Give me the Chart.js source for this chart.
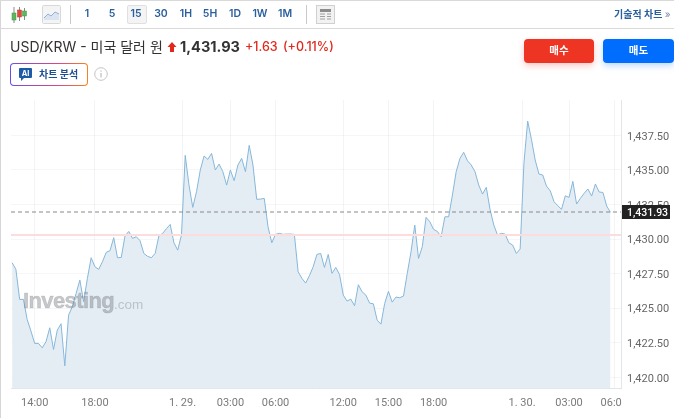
<!DOCTYPE html>
<html lang="ko">
<head>
<meta charset="utf-8">
<title>USD/KRW</title>
<script src="https://cdn.jsdelivr.net/npm/chart.js@4"></script>
<style>
  html, body { margin: 0; padding: 0; background: #fff; }
  body { width: 674px; height: 418px; position: relative; overflow: hidden; font-family: Inter, "Noto Sans CJK KR", sans-serif; }
  #chart { position: absolute; left: 0; top: 0; }
  .abs { position: absolute; white-space: nowrap; }
  #topbar { position: absolute; left: 0; top: 0; width: 674px; height: 27px; border-top: 1px solid #d9d9d9; border-bottom: 1px solid #d9d9d9; }
  #leftedge { position: absolute; left: 0; top: 0; width: 1px; height: 418px; background: #d6d6d6; }
  .iv { top: 7px; width: 30px; margin-left: -15px; text-align: center; font-size: 10.5px; line-height: 14px; font-weight: 600; color: #2a5f9e; }
  .sep { top: 5px; width: 1px; height: 19px; background: #c9c9c9; }
  .btn { top: 39px; height: 24px; border-radius: 4px; color: #fff; font-size: 10.5px; font-weight: 700; line-height: 24px; text-align: center; }
</style>
</head>
<body>
<canvas id="chart" width="674" height="418"></canvas>
<div id="leftedge"></div>
<div id="topbar"></div>

<svg class="abs" style="left:10px;top:6px" width="18" height="18">
  <path d="M4 1v16M9.500 1v14M14.500 2v12" stroke="#8a8a8a" stroke-width="1"/>
  <rect x="2" y="7" width="4" height="7" fill="#5cb85c" stroke="#4a8f4a" stroke-width=".5"/>
  <rect x="7.500" y="4" width="4" height="7" fill="#e04a3a" stroke="#b83a2c" stroke-width=".5"/>
  <rect x="12.500" y="5" width="4" height="5" fill="#5cb85c" stroke="#4a8f4a" stroke-width=".5"/>
</svg>
<svg class="abs" style="left:42px;top:5px" width="19" height="19">
  <rect x=".5" y=".5" width="18" height="18" rx="1" fill="#f4f4f4" stroke="#d8d8d8"/>
  <path d="M2 13l4-4 3 2 4-4 4 2v6H2z" fill="#dbe5f1"/>
  <path d="M2 13l4-4 3 2 4-4 4 2" fill="none" stroke="#8fb1d8"/>
</svg>
<div class="abs sep" style="left:70px"></div>
<div class="abs" style="left:127px;top:5px;width:18px;height:17px;background:#f4f4f4;border:1px solid #e0e0e0;border-radius:2px"></div>
<div class="abs iv" style="left:87px">1</div>
<div class="abs iv" style="left:112px">5</div>
<div class="abs iv" style="left:136px">15</div>
<div class="abs iv" style="left:161px">30</div>
<div class="abs iv" style="left:186px">1H</div>
<div class="abs iv" style="left:210px">5H</div>
<div class="abs iv" style="left:235px">1D</div>
<div class="abs iv" style="left:260px">1W</div>
<div class="abs iv" style="left:285px">1M</div>
<div class="abs sep" style="left:306px"></div>
<svg class="abs" style="left:316px;top:5px" width="19" height="19">
  <rect x=".5" y=".5" width="18" height="18" fill="#f2f2f2" stroke="#d0d0d0"/>
  <rect x="4" y="4" width="11" height="3" fill="#8c8c8c"/>
  <path d="M4 9h5M4 11.500h5M4 14h5M11 9h4M11 11.500h4M11 14h4" stroke="#a0a0a0"/>
</svg>
<div class="abs" style="left:614px;top:7px;font-size:10px;line-height:14px;font-weight:700;color:#2a5f9e">기술적 차트 <span style="color:#7a8ca5;font-weight:400">»</span></div>

<div class="abs" style="left:10px;top:38px;font-size:14px;line-height:18px;color:#333">USD/KRW - 미국 달러 원</div>
<svg class="abs" style="left:167px;top:42px" width="10" height="10"><path d="M5 0l4.500 5H7v5H3V5H.5z" fill="#e0281c"/></svg>
<div class="abs" style="left:180px;top:38px;font-size:14.500px;line-height:18px;font-weight:700;color:#333">1,431.93</div>
<div class="abs" style="left:245px;top:38px;font-size:12.500px;line-height:18px;font-weight:500;color:#e0281c">+1.63</div>
<div class="abs" style="left:283px;top:38px;font-size:12.500px;line-height:18px;font-weight:500;color:#e0281c">(+0.11%)</div>

<div class="abs btn" style="left:524px;width:70px;background:#ee3524;box-shadow:0 3px 6px rgba(238,53,36,.25)">매수</div>
<div class="abs btn" style="left:603px;width:71px;background:#006dff;box-shadow:0 3px 6px rgba(0,109,255,.25)">매도</div>

<div class="abs" style="left:10px;top:63px;width:78px;height:23px;border-radius:4px;background:linear-gradient(90deg,#6a4de8,#d9468a 60%,#f58220);padding:0">
  <div style="position:absolute;left:1px;top:1px;width:76px;height:21px;border-radius:3px;background:#fff"></div>
</div>
<svg class="abs" style="left:18px;top:67px" width="15" height="15">
  <path d="M2 1h11a1 1 0 0 1 1 1v8a1 1 0 0 1-1 1H6l-3 3v-3H2a1 1 0 0 1-1-1V2a1 1 0 0 1 1-1z" fill="#1d5aa8"/>
  <text x="7.500" y="9" text-anchor="middle" font-size="7.500" font-weight="700" fill="#fff" font-family="Inter">AI</text>
</svg>
<div class="abs" style="left:39px;top:67px;font-size:10px;line-height:14px;font-weight:700;color:#1f4f8f">차트 분석</div>
<svg class="abs" style="left:94px;top:67px" width="14" height="14">
  <circle cx="7" cy="7" r="6.300" fill="none" stroke="#c4c4c4"/>
  <path d="M7 6v4.500M7 3.500v1.200" stroke="#b0b0b0" stroke-width="1"/>
</svg>

<script>
const prices = [
  1428.29, 1427.81, 1425.64, 1425.64, 1424.19, 1423.35, 1422.46, 1422.46, 1422.14, 1422.58,
  1423.59, 1422.02, 1423.42, 1423.88, 1420.84, 1424.50, 1425.11, 1426.07, 1427.04, 1425.47,
  1427.16, 1428.65, 1428.00, 1427.81, 1428.36, 1429.04, 1429.16, 1430.10, 1428.65, 1428.67,
  1430.24, 1430.55, 1430.05, 1430.17, 1429.88, 1428.96, 1428.75, 1428.65, 1428.96, 1430.22,
  1430.41, 1430.75, 1431.06, 1429.73, 1429.20, 1430.29, 1436.05, 1433.90, 1432.29, 1433.42,
  1434.99, 1436.00, 1435.76, 1436.19, 1434.99, 1435.42, 1434.87, 1433.90, 1434.99, 1434.22,
  1435.35, 1435.83, 1434.87, 1436.77, 1435.35, 1432.87, 1432.89, 1432.94, 1430.89, 1429.73,
  1430.34, 1430.41, 1430.34, 1430.36, 1430.36, 1430.34, 1427.64, 1427.16, 1426.82, 1427.35,
  1428.00, 1428.89, 1428.96, 1427.95, 1428.89, 1427.52, 1427.95, 1427.45, 1425.95, 1425.52,
  1425.66, 1425.18, 1426.70, 1426.19, 1425.95, 1425.37, 1425.32, 1424.14, 1423.85, 1425.35,
  1426.22, 1425.44, 1425.81, 1425.76, 1425.88, 1427.52, 1429.08, 1431.01, 1428.60, 1429.45,
  1431.57, 1431.25, 1430.70, 1430.55, 1430.17, 1431.61, 1431.61, 1433.18, 1434.87, 1435.83,
  1436.27, 1435.66, 1435.35, 1434.87, 1433.90, 1433.25, 1433.74, 1432.15, 1431.01, 1430.29,
  1430.41, 1430.36, 1429.73, 1429.57, 1428.96, 1429.28, 1435.47, 1438.53, 1437.21, 1435.71,
  1434.70, 1434.63, 1433.83, 1433.49, 1432.70, 1432.41, 1432.15, 1433.13, 1433.01, 1434.17,
  1432.53, 1432.94, 1433.30, 1433.62, 1433.11, 1433.98, 1433.40, 1433.37, 1432.39, 1431.93
];
const timeTicks = [6, 22, 45.3, 58, 70, 88, 100, 112, 135.5, 148, 160];
const timeLabels = ['14:00', '18:00', '1. 29.', '03:00', '06:00', '12:00', '15:00', '18:00', '1. 30.', '03:00', '06:00'];
const priceTicks = [1420, 1422.5, 1425, 1427.5, 1430, 1432.5, 1435, 1437.5];
const lastPrice = 1431.93;
const prevClose = 1430.30;

const overlays = {
  id: 'overlays',
  afterDatasetsDraw(chart) {
    const ctx = chart.ctx;
    const area = chart.chartArea;
    const y = chart.scales.y;
    ctx.save();
    ctx.textBaseline = 'alphabetic';
    ctx.fillStyle = 'rgba(120,124,128,0.42)';
    ctx.strokeStyle = 'rgba(120,124,128,0.3)';
    ctx.lineWidth = 0.6;
    ctx.font = 'bold 22px "Liberation Sans"';
    ctx.letterSpacing = '-0.6px';
    ctx.fillText('Investing', 23, 308);
    ctx.strokeText('Investing', 23, 308);
    ctx.fillStyle = 'rgba(120,124,128,0.38)';
    ctx.font = '13.5px "Liberation Sans"';
    ctx.letterSpacing = '0px';
    ctx.fillText('.com', 114, 309);

    ctx.strokeStyle = '#fcdcdc';
    ctx.lineWidth = 2;
    ctx.beginPath();
    ctx.moveTo(area.left, y.getPixelForValue(prevClose));
    ctx.lineTo(area.right, y.getPixelForValue(prevClose));
    ctx.stroke();

    const lastY = Math.round(y.getPixelForValue(lastPrice));
    ctx.strokeStyle = '#8a8a8a';
    ctx.lineWidth = 1.2;
    ctx.setLineDash([4, 3]);
    ctx.beginPath();
    ctx.moveTo(area.left, lastY);
    ctx.lineTo(area.right, lastY);
    ctx.stroke();
    ctx.setLineDash([]);
    ctx.restore();
  },
  afterDraw(chart) {
    const ctx = chart.ctx;
    const area = chart.chartArea;
    const y = chart.scales.y;
    ctx.save();
    // the last time label is cut off by the price axis
    ctx.fillStyle = '#fff';
    ctx.fillRect(area.right + 1, area.bottom + 1, chart.width - area.right, chart.height - area.bottom);

    const lastY = Math.round(y.getPixelForValue(lastPrice));
    ctx.fillStyle = '#222';
    ctx.fillRect(area.right + 1, lastY - 7, 48, 14);
    ctx.fillStyle = '#fff';
    ctx.font = '500 10.5px Roboto';
    ctx.textBaseline = 'middle';
    ctx.fillText(lastPrice.toLocaleString('en-US', { minimumFractionDigits: 2 }), 627, lastY + 1);
    ctx.restore();
  }
};

new Chart(document.getElementById('chart').getContext('2d'), {
  type: 'line',
  plugins: [overlays],
  data: {
    datasets: [{
      data: prices.map((p, i) => ({ x: i, y: p })),
      borderColor: '#86b7da',
      borderWidth: 1,
      backgroundColor: '#e4edf4',
      fill: 'start',
      pointRadius: 0,
      tension: 0
    }]
  },
  options: {
    responsive: false,
    animation: false,
    layout: { padding: { left: 11, top: 100, right: 0, bottom: 0 } },
    plugins: { legend: { display: false }, tooltip: { enabled: false } },
    scales: {
      x: {
        type: 'linear',
        min: -0.3,
        max: 161.8,
        afterBuildTicks(axis) {
          axis.ticks = timeTicks.map(v => ({ value: v }));
        },
        afterFit(axis) {
          axis.height = 29.5;
        },
        grid: { color: 'rgba(40,70,100,0.06)', drawTicks: false },
        border: { color: '#e3e6e9' },
        ticks: {
          autoSkip: false,
          maxRotation: 0,
          padding: 8,
          color: '#7a7a7a',
          font: { family: 'Roboto', size: 11 },
          callback: (v) => timeLabels[timeTicks.indexOf(v)]
        }
      },
      y: {
        position: 'right',
        min: 1419.2,
        max: 1440.05,
        afterBuildTicks(axis) {
          axis.ticks = priceTicks.map(v => ({ value: v }));
        },
        afterFit(axis) {
          axis.width = 53;
        },
        grid: { color: 'rgba(40,70,100,0.05)', drawTicks: false },
        border: { color: '#e3e6e9' },
        ticks: {
          padding: 6,
          labelOffset: 1.5,
          color: '#666',
          font: { family: 'Roboto', size: 11 },
          callback: (v) => v.toLocaleString('en-US', { minimumFractionDigits: 2 })
        }
      }
    }
  }
});
</script>
</body>
</html>
